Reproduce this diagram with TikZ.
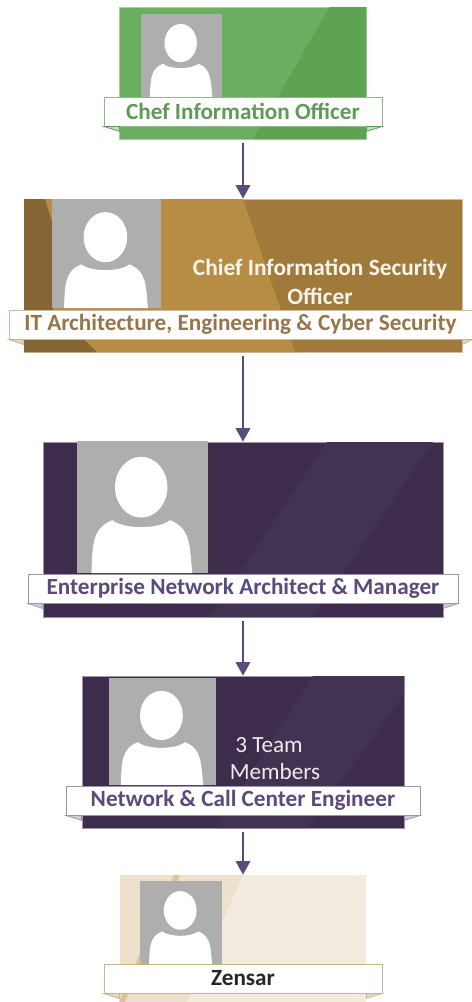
\documentclass[tikz,border=0pt]{standalone}
\usepackage{fontspec}
\setmainfont{Carlito}
\usetikzlibrary{arrows.meta}

\definecolor{arrowpurple}{HTML}{5B4A7E}
\definecolor{photogray}{HTML}{AEAEAE}
\definecolor{greenlight}{HTML}{6AAE60}
\definecolor{greendark}{HTML}{5EA351}
\definecolor{greentext}{HTML}{5F9A58}
\definecolor{brownbase}{HTML}{A07A3B}
\definecolor{brownlight}{HTML}{B78C45}
\definecolor{browndark}{HTML}{856534}
\definecolor{browntext}{HTML}{96754C}
\definecolor{purplebase}{HTML}{3D2C4C}
\definecolor{purplelight}{HTML}{433353}
\definecolor{purpletext}{HTML}{5B4A7E}
\definecolor{creambase}{HTML}{F3EBDF}
\definecolor{creamdark}{HTML}{EDE1CE}
\definecolor{creamstripe}{HTML}{DCC49C}
\definecolor{creamline}{HTML}{C9B48E}

\newcommand{\personphoto}[4]{
\begin{scope}[shift={(#1,#2)},x=#3*0.02cm,y=-#4*0.02cm]
\fill[photogray] (0,0) rectangle (1,1);
\fill[white] (0.49,0.35) ellipse [x radius=0.2,y radius=0.23];
\fill[white] (0.11,1) .. controls (0.12,0.8) and (0.11,0.66) .. (0.27,0.6)
.. controls (0.36,0.67) and (0.62,0.67) .. (0.71,0.6)
.. controls (0.87,0.66) and (0.86,0.8) .. (0.88,1) -- cycle;
\end{scope}
}

\begin{document}
\begin{tikzpicture}[x=0.02cm, y=-0.02cm,
cardbox/.style={rectangle, inner sep=0pt, line width=0.4pt},
ribbon/.style={rectangle, fill=white, inner sep=0pt, line width=0.5pt, minimum height=0.58cm, font=\fontsize{13.2}{14}\selectfont\bfseries},
cardtext/.style={inner sep=0pt, align=center},
fold/.style={line width=0.4pt},
link/.style={arrowpurple, line width=1pt, -{Triangle[length=0.27cm,width=0.29cm]}}]

\useasboundingbox (0,0) rectangle (472,1002);

% Chef Information Officer
\node[cardbox, fill=greenlight, draw=greenlight!60!white, minimum width=4.94cm, minimum height=2.64cm] (cio) at (243,73) {};
\fill[greendark] (330,7) -- (366,7) -- (366,139) -- (253,139) -- cycle;
\personphoto{141}{14}{81}{83}
\node[ribbon, draw=greentext!70!white, text=greentext, minimum width=5.56cm] (cioribbon) at (243,111.5) {Chef Information Officer};
\filldraw[fold, draw=greentext, fill=greenlight!40!white] (cioribbon.south west) -- ++(16,5) -- ++(0,-5) -- cycle;
\filldraw[fold, draw=greentext, fill=greenlight!40!white] (cioribbon.south east) -- ++(-16,5) -- ++(0,-5) -- cycle;

% Chief Information Security Officer
\node[cardbox, fill=brownbase, draw=brownbase!50!white, minimum width=8.76cm, minimum height=3.06cm] (ciso) at (243,275.5) {};
\fill[brownlight] (24,199) -- (243,199) -- (295,352) -- (24,352) -- cycle;
\fill[browndark] (24,199) -- (45,199) -- (53,225) -- (53,310) -- (97,352) -- (24,352) -- cycle;
\personphoto{52}{199}{109}{109}
\node[cardtext, font=\fontsize{13.3}{16.5}\selectfont\bfseries, text=white!90!brownlight] (cisotext) at (320,281.5) {Chief Information Security\\Officer};
\node[ribbon, draw=brownbase!50!white, text=browntext, minimum width=9.26cm] (cisoribbon) at (240.5,324.5) {IT Architecture, Engineering \& Cyber Security};
\filldraw[fold, draw=brownbase!60!white, fill=brownbase!30!white] (cisoribbon.south west) -- ++(15,5) -- ++(0,-5) -- cycle;
\filldraw[fold, draw=brownbase!60!white, fill=brownbase!30!white] (cisoribbon.south east) -- ++(-10,5) -- ++(0,-5) -- cycle;

% Enterprise Network Architect
\node[cardbox, fill=purplebase, draw=purplebase!50!white, minimum width=8cm, minimum height=3.5cm] (architect) at (243,529.5) {};
\fill[purplelight] (327,442) -- (433,442) -- (313,617) -- (210,617) -- cycle;
\personphoto{77}{441}{131}{132}
\node[ribbon, draw=purplebase!50!white, text=purpletext, minimum width=8.6cm] (architectribbon) at (243,588.5) {Enterprise Network Architect \& Manager};
\filldraw[fold, draw=purplebase!50!white, fill=purplebase!25!white] (architectribbon.south west) -- ++(15,5) -- ++(0,-5) -- cycle;
\filldraw[fold, draw=purplebase!50!white, fill=purplebase!25!white] (architectribbon.south east) -- ++(-15,5) -- ++(0,-5) -- cycle;

% Network & Call Center Engineer
\node[cardbox, fill=purplebase, draw=purplebase!50!white, minimum width=6.44cm, minimum height=3.04cm] (engineer) at (243,752) {};
\fill[purplelight] (313,676) -- (404,676) -- (404,695) -- (307,828) -- (216,828) -- cycle;
\personphoto{109}{678}{107}{107}
\node[cardtext, font=\fontsize{13.2}{15.4}\selectfont, text=white!90!purplelight] (engineertext) at (275,758.5) {3 Team\hspace*{0.24cm}\\Members};
\node[ribbon, draw=purplebase!50!white, text=purpletext, minimum width=7.08cm] (engineerribbon) at (243,800.5) {Network \& Call Center Engineer};
\filldraw[fold, draw=purplebase!50!white, fill=purplebase!25!white] (engineerribbon.south west) -- ++(16,5) -- ++(0,-5) -- cycle;
\filldraw[fold, draw=purplebase!50!white, fill=purplebase!25!white] (engineerribbon.south east) -- ++(-16,5) -- ++(0,-5) -- cycle;

% Zensar
\node[cardbox, fill=creambase, minimum width=4.94cm, minimum height=2.54cm] (zensar) at (243,938.5) {};
\fill[creamdark] (120,875) -- (243,875) -- (187,1002) -- (120,1002) -- cycle;
\fill[creamstripe] (174,875) -- (180,875) -- (125,1002) -- (119,1002) -- cycle;
\personphoto{140}{881}{82}{84}
\node[ribbon, draw=creamline, text=black!85, minimum width=5.56cm] (zensarribbon) at (243,978.5) {Zensar};
\filldraw[fold, draw=creamline, fill=creamline!50!white] (zensarribbon.south west) -- ++(16,5) -- ++(0,-5) -- cycle;
\filldraw[fold, draw=creamline, fill=creamline!50!white] (zensarribbon.south east) -- ++(-16,5) -- ++(0,-5) -- cycle;

\draw[link, shorten <=2pt] (cio) -- (ciso);
\draw[link, shorten <=2pt] (ciso) -- (architect);
\draw[link, shorten <=2pt] (architect) -- (engineer);
\draw[link, shorten <=2pt] (engineer) -- (zensar);

\end{tikzpicture}
\end{document}
